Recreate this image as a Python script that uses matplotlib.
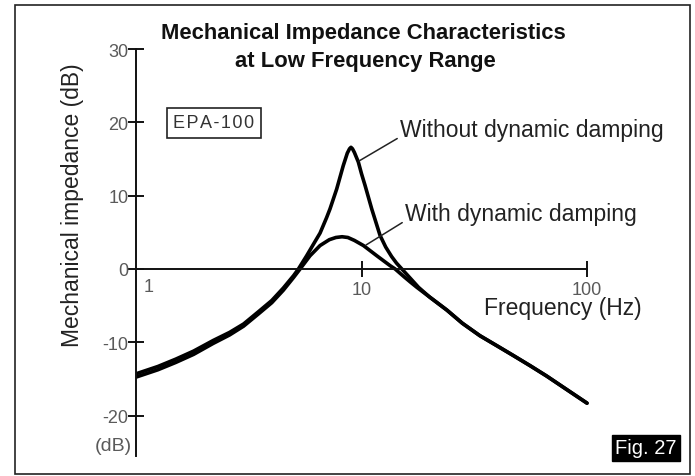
import matplotlib
matplotlib.use("Agg")
import matplotlib.pyplot as plt
from matplotlib.patches import Rectangle

# ---- data ----
freq_without = [1, 1.25, 1.5, 1.8, 2.2, 2.6, 3.0, 3.5, 4.0, 4.5, 5.0, 5.25, 5.71, 6.1,
                6.55, 7.0, 7.25, 7.76, 8.3, 8.65, 8.85, 8.98, 9.12, 9.3, 9.68, 10.0,
                10.37, 11.1, 12.08, 12.8, 13.6, 14.3, 15.1, 16.5, 17.9, 20, 23.9, 28, 33.5,
                40, 47.1, 56, 66.2, 80, 100]
imp_without = [-14.3, -13.3, -12.3, -11.2, -9.75, -8.65, -7.5, -5.8, -4.3, -2.6, -0.9, 0.0,
               1.8, 3.3, 4.9, 7.0, 8.2, 10.9, 14.1, 15.8, 16.4, 16.6, 16.4, 15.9, 14.6,
               13.0, 11.4, 8.2, 4.6, 3.0, 1.7, 0.8, 0.0, -1.3, -2.5, -3.8, -5.6, -7.4, -9.1,
               -10.5, -11.8, -13.2, -14.6, -16.3, -18.3]

freq_with = [1, 1.25, 1.5, 1.8, 2.2, 2.6, 3.0, 3.5, 4.0, 4.5, 5.0, 5.34, 5.91, 6.55,
             7.2, 7.7, 8.2, 8.7, 9.3, 10.2, 11.7, 13.4, 14.1, 15.5, 16.5, 17.6, 20,
             23.9, 28, 33.5, 40, 47.1, 56, 66.2, 80, 100]
imp_with = [-14.75, -13.75, -12.75, -11.65, -10.15, -9.0, -7.8, -6.1, -4.6, -2.9, -1.15, 0.0,
            1.8, 3.2, 4.0, 4.3, 4.4, 4.3, 3.9, 3.2, 1.8, 0.45, 0.0, -1.1, -1.8, -2.5, -3.8,
            -5.6, -7.4, -9.1, -10.5, -11.8, -13.2, -14.6, -16.3, -18.3]

y_ticks = [-20, -10, 0, 10, 20, 30]
x_ticks = [10, 100]
x_ticklabels = ["10", "100"]

W, H = 695, 477
PX_DEC = 225.5      # pixels per decade
PX_DB = 7.33        # pixels per dB
X0, Y0 = 136, 270   # pixel position of (1 Hz, 0 dB)

def fx(px):
    return px / W

def fy(py):
    return 1 - py / H

def f_of(px):
    return 10 ** ((px - X0) / PX_DEC)

def db_of(py):
    return (Y0 - py) / PX_DB

plt.rcParams['font.family'] = ['Liberation Sans', 'DejaVu Sans']

fig = plt.figure(figsize=(W / 100, H / 100), dpi=100)
fig.patch.set_facecolor('white')

left_px, right_px, top_px, bot_px = X0, 600, 40, 462
ax = fig.add_axes([fx(left_px), fy(bot_px), (right_px - left_px) / W, (bot_px - top_px) / H])
ax.set_xscale('log')
ax.set_xlim(1, f_of(right_px))
ax.set_ylim(db_of(bot_px), db_of(top_px))
ax.patch.set_alpha(0)

for s in ['top', 'right']:
    ax.spines[s].set_visible(False)
ax.spines['left'].set_position(('data', 1))
ax.spines['left'].set_bounds(db_of(457), 30)
ax.spines['bottom'].set_position(('data', 0))
ax.spines['bottom'].set_bounds(1, 100)
for s in ['left', 'bottom']:
    ax.spines[s].set_linewidth(1.4)
    ax.spines[s].set_color('#111111')

ax.set_yticks(y_ticks)
ax.set_yticklabels([str(v) for v in y_ticks])
ax.set_xticks(x_ticks)
ax.set_xticklabels(x_ticklabels)
ax.xaxis.set_minor_locator(matplotlib.ticker.NullLocator())
ax.tick_params(axis='both', which='major', direction='inout', length=11, width=1.4,
               color='#111111', labelcolor='#5a5a5a', labelsize=13)
ax.tick_params(axis='y', pad=0)
ax.tick_params(axis='x', pad=3)

ax.plot(freq_without, imp_without, color='black', lw=2.6,
        solid_capstyle='round', solid_joinstyle='round')
ax.plot(freq_with, imp_with, color='black', lw=2.6,
        solid_capstyle='round', solid_joinstyle='round')

# "1" label next to the origin
ax.text(f_of(149), db_of(288), '1', ha='center', va='center', fontsize=13, color='#5a5a5a')

# axis labels
fig.text(fx(73), fy(205), 'Mechanical impedance (dB)', rotation=90, ha='center',
         va='center', fontsize=16.5, color='#222222')
fig.text(fx(563), fy(309), 'Frequency (Hz)', ha='center', va='center',
         fontsize=16.5, color='#222222')
fig.text(fx(113), fy(447), '(dB)', ha='center', va='center', fontsize=14, color='#5a5a5a')

# title
fig.text(fx(363), fy(33), 'Mechanical Impedance Characteristics', ha='center',
         va='center', fontsize=15.8, fontweight='bold', color='#111111')
fig.text(fx(365), fy(61), 'at Low Frequency Range', ha='center',
         va='center', fontsize=15.8, fontweight='bold', color='#111111')

# EPA-100 box
fig.text(fx(214), fy(124), '\u200a'.join('EPA-100'), ha='center', va='center',
         fontsize=13, color='#333333',
         bbox=dict(boxstyle='square,pad=0.38', fc='white', ec='#222222', lw=1.2))

# annotations
ax.annotate('Without dynamic damping', xy=(f_of(359), db_of(162)),
            xytext=(f_of(400), db_of(131)), ha='left', va='center', fontsize=16.5,
            color='#222222',
            arrowprops=dict(arrowstyle='-', lw=1.1, color='#222222', shrinkA=0, shrinkB=0,
                            relpos=(0, 0.2)))
ax.annotate('With dynamic damping', xy=(f_of(366), db_of(246)),
            xytext=(f_of(405), db_of(215)), ha='left', va='center', fontsize=16.5,
            color='#222222',
            arrowprops=dict(arrowstyle='-', lw=1.1, color='#222222', shrinkA=0, shrinkB=0,
                            relpos=(0, 0.2)))

# Fig. 27 label
fig.text(fx(646), fy(449), 'Fig. 27', ha='center', va='center', fontsize=14.5,
         color='white', bbox=dict(boxstyle='square,pad=0.18', fc='black', ec='black'))

# outer frame
fig.add_artist(Rectangle((fx(15), fy(475)), (690 - 15) / W, (475 - 6) / H,
                         transform=fig.transFigure, fill=False, ec='#222222', lw=1.2))

fig.savefig('out.png', dpi=100)
